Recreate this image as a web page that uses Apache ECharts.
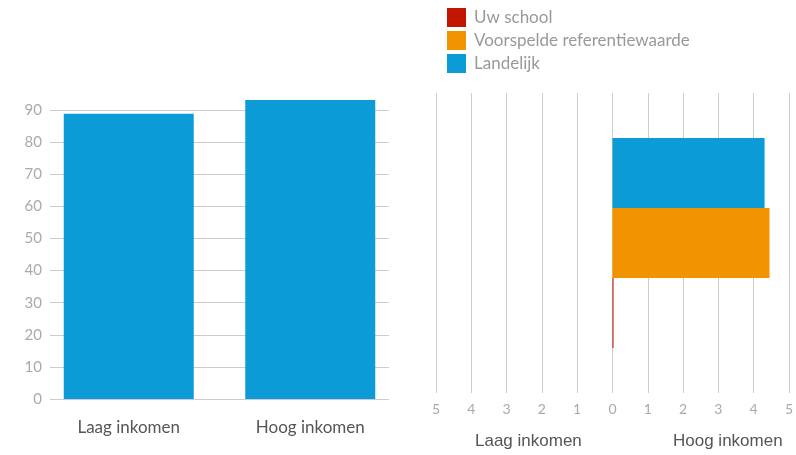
<!DOCTYPE html>
<html>
<head>
<meta charset="utf-8">
<script src="https://cdn.jsdelivr.net/npm/echarts@6/dist/echarts.min.js"></script>
<style>html,body{margin:0;padding:0;background:#fff}#c{width:796px;height:455px}</style>
</head>
<body>
<div id="c"></div>
<script>
// Left chart
const leftCategories = ['Laag inkomen', 'Hoog inkomen'];
const leftValues = [88.8, 93.1];
const leftTicks = [0, 10, 20, 30, 40, 50, 60, 70, 80, 90];

// Right chart
const seriesNames = ['Uw school', 'Voorspelde referentiewaarde', 'Landelijk'];
const uwSchool = [0.03];
const voorspeld = [4.45];
const landelijk = [4.31];
const sideLabels = ['Laag inkomen', 'Hoog inkomen'];

const FONT = 'Lato, "Open Sans", sans-serif';
const BLUE = '#0b9cd7', ORANGE = '#f29400', RED = '#c01500';

const chart = echarts.init(document.getElementById('c'));
chart.setOption({
  animation: false,
  textStyle: { fontFamily: FONT },
  legend: {
    orient: 'vertical', left: 447, top: 8, itemWidth: 19, itemHeight: 19, itemGap: 4, padding: 0,
    icon: 'rect', selectedMode: false,
    data: seriesNames,
    textStyle: { fontSize: 17, color: '#999', fontFamily: FONT, padding: [0, 0, 0, 3] }
  },
  grid: [
    { left: 38, right: 395, top: 110, bottom: 56 },
    { left: 50, right: 407, top: 110, bottom: 56 },
    { left: 436, right: 5, top: 93, bottom: 62 }
  ],
  xAxis: [
    { gridIndex: 0, type: 'category', data: leftCategories,
      axisLine: { show: false }, axisTick: { show: false },
      axisLabel: { fontSize: 17, color: '#555', margin: 20, fontFamily: FONT } },
    { gridIndex: 1, type: 'value', show: false },
    { gridIndex: 2, type: 'value', min: -5, max: 5, interval: 1,
      axisLine: { show: false }, axisTick: { show: false },
      splitLine: { show: true, lineStyle: { color: '#ccc', width: 1 } },
      axisLabel: { fontSize: 14, color: '#aaa', margin: 9, fontFamily: FONT,
        formatter: v => String(Math.abs(v)) } }
  ],
  yAxis: [
    { gridIndex: 0, type: 'value', min: 0, max: 90, show: false },
    { gridIndex: 1, type: 'value', min: 0, max: 90, interval: 10,
      axisLine: { show: false }, axisTick: { show: false },
      splitLine: { lineStyle: { color: '#ccc', width: 1 } },
      axisLabel: { fontSize: 15, color: '#aaa', margin: 8, fontFamily: FONT,
        formatter: v => leftTicks.includes(v) ? String(v) : '' } },
    { gridIndex: 2, type: 'category', data: [''],
      axisLine: { show: false }, axisTick: { show: false }, axisLabel: { show: false } }
  ],
  series: [
    { name: 'Landelijk-links', type: 'bar', xAxisIndex: 0, yAxisIndex: 0, data: leftValues,
      barWidth: 130, clip: false, itemStyle: { color: BLUE }, legendHoverLink: false },
    { name: seriesNames[2], type: 'bar', xAxisIndex: 2, yAxisIndex: 2, data: landelijk,
      barGap: '0%', barCategoryGap: '30%', itemStyle: { color: BLUE } },
    { name: seriesNames[1], type: 'bar', xAxisIndex: 2, yAxisIndex: 2, data: voorspeld,
      barGap: '0%', barCategoryGap: '30%', itemStyle: { color: ORANGE } },
    { name: seriesNames[0], type: 'bar', xAxisIndex: 2, yAxisIndex: 2, data: uwSchool,
      barGap: '0%', barCategoryGap: '30%', itemStyle: { color: RED } }
  ],
  graphic: [
    { type: 'text', left: 475, top: 433, style: { text: sideLabels[0], fontSize: 17, fill: '#555', font: '17px ' + FONT } },
    { type: 'text', left: 673, top: 433, style: { text: sideLabels[1], fontSize: 17, fill: '#555', font: '17px ' + FONT } }
  ]
});
</script>
</body>
</html>
